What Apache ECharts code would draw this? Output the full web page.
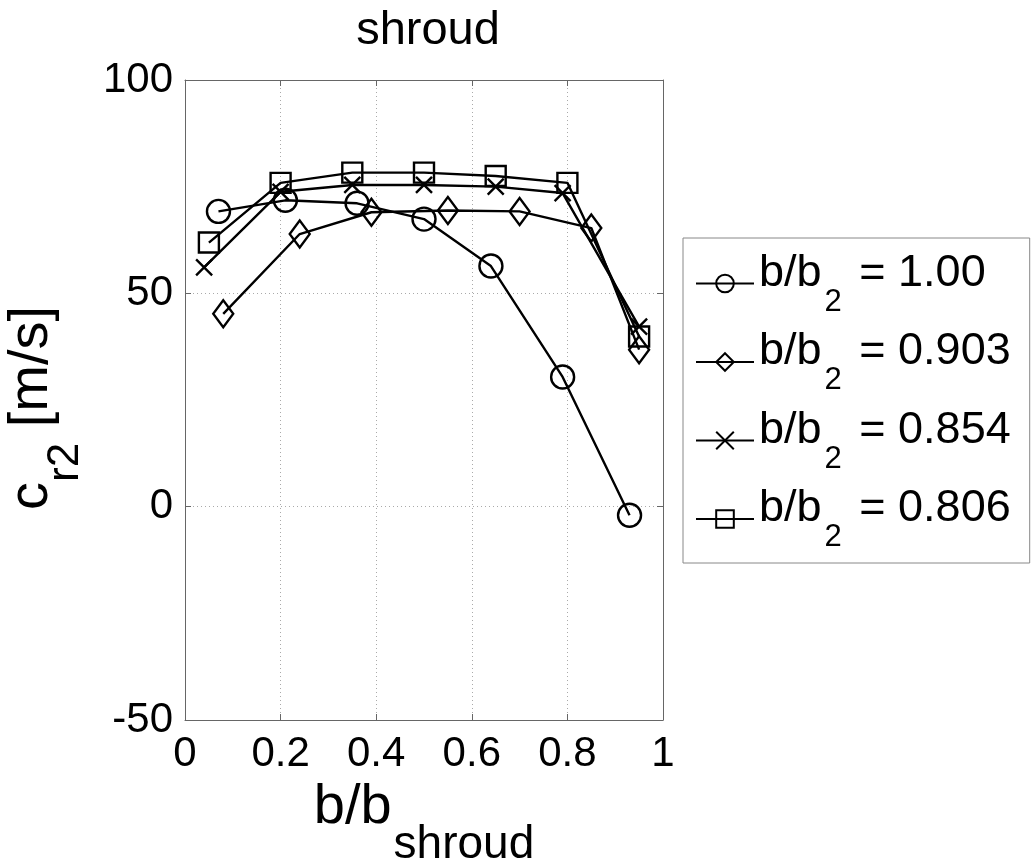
<!DOCTYPE html>
<html>
<head>
<meta charset="utf-8">
<script src="https://cdn.jsdelivr.net/npm/echarts@6/dist/echarts.min.js"></script>
<style>
  html, body { margin: 0; padding: 0; background: #fff; }
  #chart { width: 1032px; height: 866px; }
</style>
</head>
<body>
<div id="chart"></div>
<script>
// b/b_shroud positions and c_r2 values [m/s]
const xTicks = [0, 0.2, 0.4, 0.6, 0.8, 1];
const yTicks = [-50, 0, 50, 100];

const seriesNames = ['1.00', '0.903', '0.854', '0.806'];

const xCircle = [0.07, 0.21, 0.36, 0.50, 0.64, 0.79, 0.93];
const yCircle = [69.2, 71.8, 71.1, 67.4, 56.4, 30.4, -2.0];

const xDiamond = [0.08, 0.24, 0.39, 0.55, 0.70, 0.85, 0.95];
const yDiamond = [45.2, 63.9, 69.0, 69.4, 69.2, 65.3, 36.8];

const xCross = [0.04, 0.20, 0.35, 0.50, 0.65, 0.79, 0.95];
const yCross = [56.1, 73.8, 75.4, 75.4, 75.0, 73.5, 42.2];

const xSquare = [0.05, 0.20, 0.35, 0.50, 0.65, 0.80, 0.95];
const ySquare = [61.9, 75.9, 78.3, 78.3, 77.5, 75.9, 39.9];

const FONT = '"Liberation Sans", Arial, sans-serif';
const crossPath = 'path://M0,0L10,10M10,0L0,10';
const AXIS_GREY = '#666';

function pairs(xs, ys) {
  return xs.map((x, i) => [x, ys[i]]);
}

function makeSeries(name, xs, ys, symbol, size) {
  return {
    name: name,
    type: 'line',
    xAxisIndex: 0,
    yAxisIndex: 0,
    data: pairs(xs, ys),
    symbol: symbol,
    symbolSize: size,
    showSymbol: true,
    lineStyle: { color: '#000', width: 2.4 },
    itemStyle: { color: 'rgba(0,0,0,0)', borderColor: '#000', borderWidth: 2.4 },
    emphasis: { disabled: true },
    animation: false,
    z: 3,
  };
}

// frame axes: only ticks, no labels (matlab style box)
function frameAxis(pos, min, max, interval) {
  return {
    type: 'value',
    position: pos,
    min: min,
    max: max,
    interval: interval,
    axisLine: { show: true, onZero: false, lineStyle: { color: AXIS_GREY, width: 1 } },
    axisTick: { show: true, inside: true, length: 6, lineStyle: { color: AXIS_GREY } },
    axisLabel: { show: false },
    splitLine: { show: false },
  };
}

const chart = echarts.init(document.getElementById('chart'));

chart.setOption({
  backgroundColor: '#fff',
  textStyle: { fontFamily: FONT },
  title: {
    text: 'shroud',
    left: 423,
    textAlign: 'center',
    top: 3,
    textStyle: { fontFamily: FONT, fontSize: 47, fontWeight: 'normal', color: '#000' },
  },
  grid: {
    left: 185,
    right: 369,
    top: 80,
    bottom: 146,
    outerBoundsMode: 'none',
    containLabel: false,
    show: false,
  },
  legend: {
    orient: 'vertical',
    left: 683,
    top: 238,
    padding: [13, 19, 10, 12],
    itemWidth: 58,
    itemHeight: 22,
    itemGap: 12,
    borderColor: '#888',
    borderWidth: 1,
    borderRadius: 0,
    backgroundColor: '#fff',
    data: seriesNames.map((n) => 'b/b2 = ' + n),
    formatter: (name) => '{t|b/b}{s|2}{t| ' + name.replace('b/b2 ', '') + '}',
    textStyle: {
      color: '#000',
      fontFamily: FONT,
      rich: {
        t: { fontSize: 45, fontFamily: FONT, color: '#000', padding: [0, 0, 20, 0] },
        s: { fontSize: 31, fontFamily: FONT, color: '#000', padding: [37, 5, 0, 3] },
      },
    },
  },
  xAxis: [
    {
      type: 'value',
      position: 'bottom',
      min: 0,
      max: 1,
      interval: 0.2,
      name: '{t|b/b}{s|shroud}',
      nameLocation: 'middle',
      nameGap: 12,
      nameTextStyle: {
        rich: {
          t: { fontSize: 56, fontFamily: FONT, color: '#000' },
          s: { fontSize: 46, fontFamily: FONT, color: '#000', padding: [74, 0, 0, 2] },
        },
      },
      axisLine: { show: true, onZero: false, lineStyle: { color: AXIS_GREY, width: 1 } },
      axisTick: { show: true, inside: true, length: 6, lineStyle: { color: AXIS_GREY } },
      axisLabel: {
        fontSize: 42,
        fontFamily: FONT,
        color: '#000',
        margin: 13,
        formatter: (v) => String(Math.round(v * 10) / 10),
      },
      splitLine: { show: true, lineStyle: { color: '#aaa', type: [1, 3], width: 1 } },
    },
    frameAxis('top', 0, 1, 0.2),
  ],
  yAxis: [
    {
      type: 'value',
      position: 'left',
      min: -50,
      max: 100,
      interval: 50,
      name: '{t|c}{s|r2}{t| [m/s]}',
      nameLocation: 'middle',
      nameRotate: 90,
      nameGap: 97,
      nameTextStyle: {
        padding: [0, 16, 0, 0],
        rich: {
          t: { fontSize: 56, fontFamily: FONT, color: '#000' },
          s: { fontSize: 44, fontFamily: FONT, color: '#000', padding: [68, 0, 0, 0] },
        },
      },
      axisLine: { show: true, onZero: false, lineStyle: { color: AXIS_GREY, width: 1 } },
      axisTick: { show: true, inside: true, length: 6, lineStyle: { color: AXIS_GREY } },
      axisLabel: { fontSize: 42, fontFamily: FONT, color: '#000', margin: 12 },
      splitLine: { show: true, lineStyle: { color: '#aaa', type: [1, 3], width: 1 } },
    },
    frameAxis('right', -50, 100, 50),
  ],
  series: [
    makeSeries('b/b2 = ' + seriesNames[0], xCircle, yCircle, 'circle', 23),
    makeSeries('b/b2 = ' + seriesNames[1], xDiamond, yDiamond, 'diamond', [20, 27]),
    makeSeries('b/b2 = ' + seriesNames[2], xCross, yCross, crossPath, 16),
    makeSeries('b/b2 = ' + seriesNames[3], xSquare, ySquare, 'rect', 20),
  ],
});
</script>
</body>
</html>
